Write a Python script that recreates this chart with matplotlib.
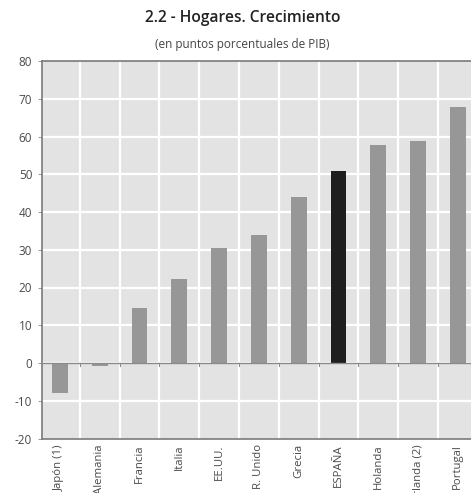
import matplotlib.pyplot as plt
import numpy as np

# data
paises = ['Japón (1)', 'Alemania', 'Francia', 'Italia', 'EE.UU.', 'R. Unido',
          'Grecia', 'ESPAÑA', 'Holanda', 'Irlanda (2)', 'Portugal']
valores = [-7.9, -0.7, 14.5, 22.2, 30.4, 33.8, 44.0, 50.9, 57.7, 58.9, 67.9]
destacado = 'ESPAÑA'
yticks = [-20, -10, 0, 10, 20, 30, 40, 50, 60, 70, 80]

plt.rcParams['font.family'] = ['Open Sans', 'DejaVu Sans']

W, H = 471, 493
fig = plt.figure(figsize=(W / 100, H / 100), dpi=100)
ax = fig.add_axes([42 / W, 54.5 / H, (W - 42) / W, 377.5 / H])

x = np.arange(len(paises))
colores = ['#1e1e1e' if p == destacado else '#979797' for p in paises]
ax.bar(x, valores, width=0.4, color=colores, zorder=3)

ax.set_facecolor('#e3e3e3')
ax.set_xlim(-0.45, 10.33)
ax.set_ylim(-20, 80)

ax.set_yticks(yticks)
ax.set_yticklabels([str(v) for v in yticks], fontsize=8.5, color='#4a4a4a')
ax.tick_params(axis='y', length=3, width=0.6, color='#888888', pad=4)

# white grid: horizontal every 10, vertical between categories
for v in yticks[1:-1]:
    ax.axhline(v, color='white', lw=1.6, zorder=1)
for b in x[:-1] + 0.5:
    ax.axvline(b, color='white', lw=1.6, zorder=1)

# zero line with little marks at category boundaries
ax.axhline(0, color='#8a8a8a', lw=1.0, zorder=4)
for b in x[:-1] + 0.5:
    ax.plot([b, b], [0, -0.7], color='#8a8a8a', lw=0.8, zorder=4)

ax.set_xticks(x)
ax.set_xticklabels(paises, rotation=90, fontsize=8.2, color='#4a4a4a',
                   va='top', ha='center')
ax.tick_params(axis='x', length=0, pad=4)

for s in ['left', 'top', 'bottom']:
    ax.spines[s].set_color('#7a7a7a')
    ax.spines[s].set_linewidth(1.2)
ax.spines['right'].set_visible(False)

fig.text(0.515, 0.963, '2.2 - Hogares. Crecimiento', ha='center', va='center',
         fontsize=11.2, fontweight='semibold', color='#222222')
fig.text(0.515, 0.909, '(en puntos porcentuales de PIB)', ha='center', va='center',
         fontsize=8.5, color='#444444')

fig.savefig('out.png', dpi=100)
